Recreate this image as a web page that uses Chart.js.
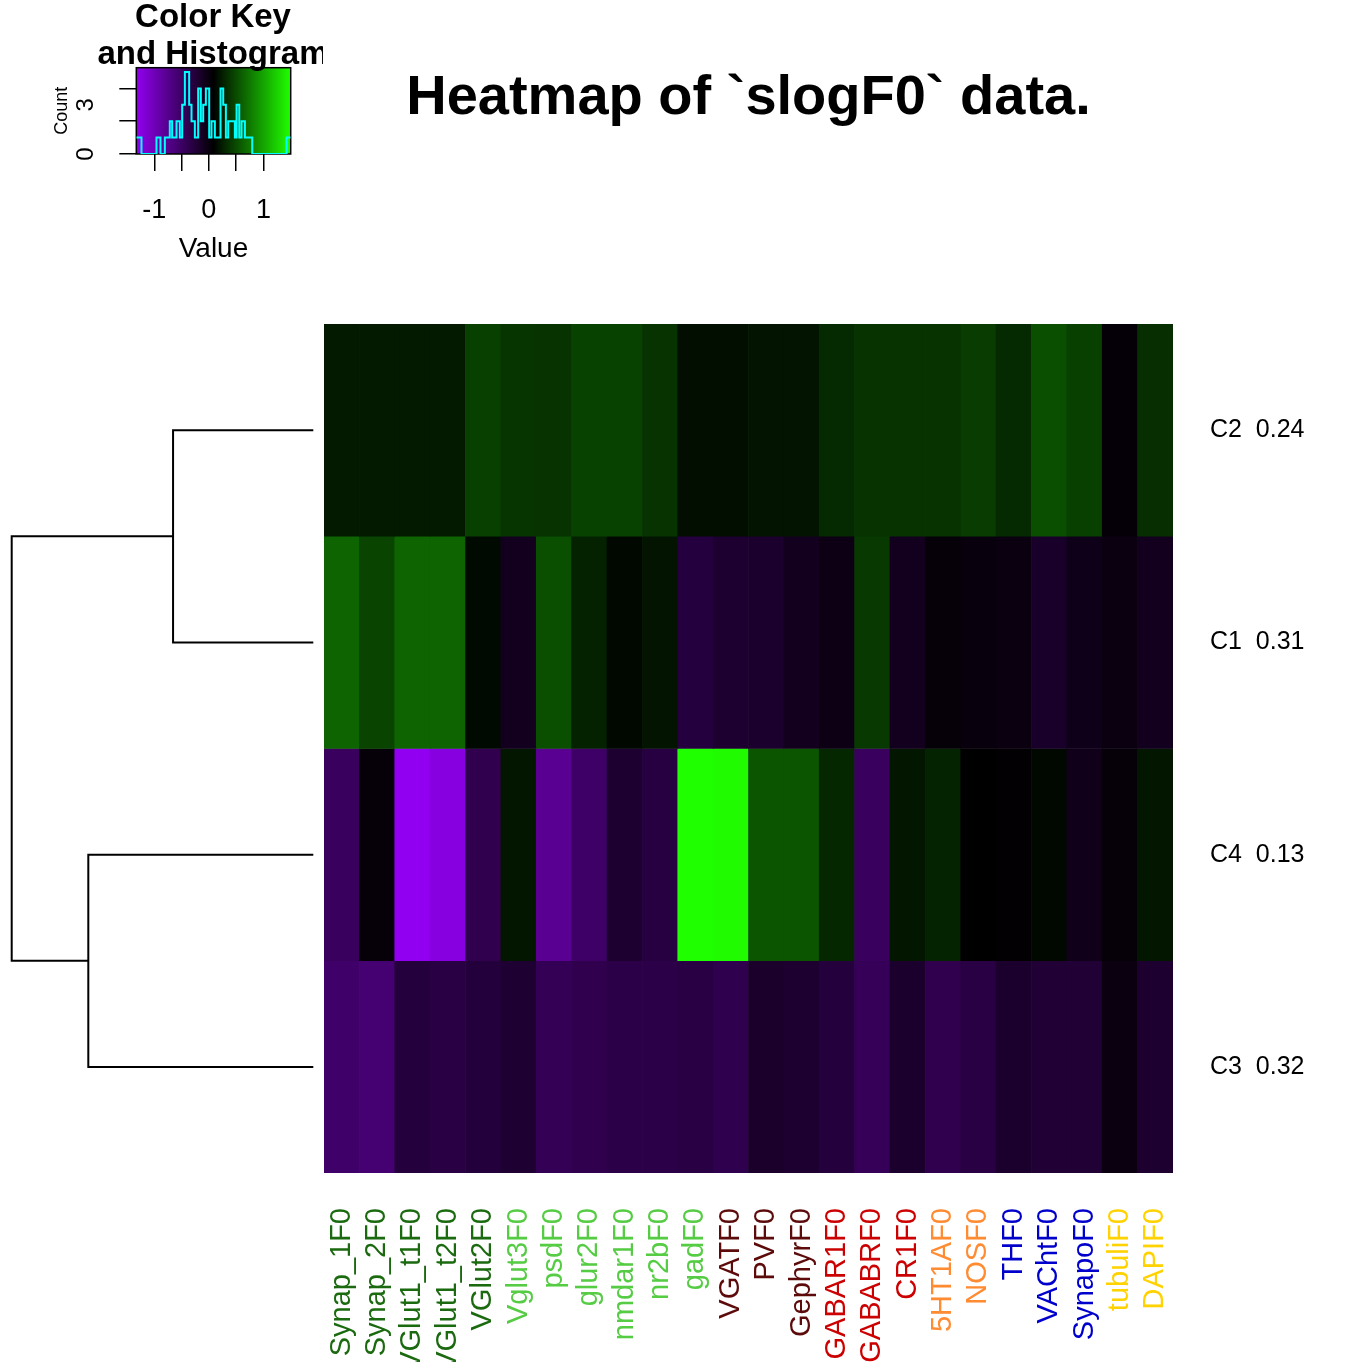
<!DOCTYPE html>
<html><head><meta charset="utf-8">
<script src="https://cdn.jsdelivr.net/npm/chart.js@4.4.1/dist/chart.umd.min.js"></script>
<style>
html,body{margin:0;padding:0;background:#fff;overflow:hidden;}
#wrap{position:relative;width:1362px;height:1362px;background:#fff;}
canvas{position:absolute;left:0;top:0;}
</style></head><body>
<div id="wrap">
<canvas id="main" width="1362" height="1362"></canvas>
<canvas id="dendro" width="330" height="1362"></canvas>
<canvas id="key" width="323" height="300"></canvas>
</div>
<script>
// ---------------- data ----------------
const columns = ['Synap_1F0','Synap_2F0','VGlut1_t1F0','VGlut1_t2F0','VGlut2F0','Vglut3F0','psdF0','glur2F0','nmdar1F0','nr2bF0','gadF0','VGATF0','PVF0','GephyrF0','GABAR1F0','GABABRF0','CR1F0','5HT1AF0','NOSF0','THF0','VAChtF0','SynapoF0','tubuliF0','DAPIF0'];
const columnColors = ['#1B6A10','#1B6A10','#1B6A10','#1B6A10','#1B6A10','#55CC44','#55CC44','#55CC44','#55CC44','#55CC44','#55CC44','#5C0A0A','#5C0A0A','#5C0A0A','#CC0000','#CC0000','#CC0000','#FF8C33','#FF8C33','#0000CC','#0000CC','#0000CC','#FFD200','#FFD200'];
const rowNames = ['C2','C1','C4','C3'];
const rowShares = ['0.24','0.31','0.13','0.32'];
const rowC2 = [0.23,0.23,0.23,0.23,0.44,0.38,0.37,0.45,0.45,0.37,0.17,0.17,0.20,0.20,0.31,0.37,0.37,0.37,0.42,0.31,0.52,0.44,0.04,0.34];
const rowC1 = [0.64,0.47,0.64,0.64,0.14,-0.10,0.52,0.27,0.13,0.20,-0.28,-0.20,-0.18,-0.10,-0.04,0.40,-0.10,0.03,0.00,-0.01,-0.16,-0.06,-0.01,-0.10];
const rowC4 = [-0.47,0.03,-1.33,-1.23,-0.38,0.21,-0.78,-0.52,-0.20,-0.30,1.50,1.48,0.55,0.55,0.30,-0.47,0.21,0.28,0.085,0.06,0.13,-0.07,0.03,0.21];
const rowC3 = [-0.54,-0.59,-0.27,-0.31,-0.26,-0.21,-0.42,-0.38,-0.34,-0.34,-0.31,-0.37,-0.17,-0.20,-0.27,-0.44,-0.18,-0.38,-0.31,-0.18,-0.23,-0.23,-0.01,-0.20];
// dendrogram merge heights (relative): (C2,C1), (C4,C3), root
const mergeHeights = [0.465, 0.746, 1.0];
// colour key histogram: step edges (value units) and counts
const histEdges = [-1.33,-1.235,-0.960,-0.887,-0.807,-0.716,-0.673,-0.593,-0.532,-0.489,-0.440,-0.361,-0.318,-0.257,-0.196,-0.147,-0.104,-0.055,0.006,0.049,0.110,0.214,0.263,0.312,0.355,0.477,0.508,0.557,0.599,0.661,0.795,1.425,1.50];
const histCounts = [1,0,1,0,1,2,1,2,1,3,5,3,2,1,4,2,3,4,1,2,1,4,3,1,2,1,3,1,2,1,0,1];
const keyTicks = [-1,-0.5,0,0.5,1];
const keyTickLabels = ['-1','','0','','1'];
const countTicks = [0,1,2,3,4,5];
const countLabels = [0,3];
const keyTitle = ['Color Key','and Histogram'];

// ---------------- derived ----------------
const rows = [rowC2,rowC1,rowC4,rowC3];
const allVals = rows.flat();
const vMin = Math.min(...allVals), vMax = Math.max(...allVals);
const vMid = (vMin+vMax)/2, vHalf = (vMax-vMin)/2;
const PURPLE = [145,0,240], GREEN = [32,255,0];
function colorOf(v){
  const t = (v - vMid)/vHalf;
  const c = t >= 0 ? GREEN : PURPLE;
  const s = Math.min(1, Math.abs(t));
  return `rgb(${Math.round(c[0]*s)},${Math.round(c[1]*s)},${Math.round(c[2]*s)})`;
}
const maxCount = Math.max(...histCounts);
const histPoints = histEdges.map((b,i)=>({x:b, y: i<histCounts.length ? histCounts[i] : histCounts[histCounts.length-1]}));

Chart.defaults.font.family = "'Liberation Sans', Arial, Helvetica, sans-serif";
Chart.defaults.color = '#000';

// ---------------- main heatmap ----------------
new Chart(document.getElementById('main'), {
  type: 'bar',
  data: {
    labels: columns,
    datasets: rows.map((vals, r) => ({
      label: rowNames[r],
      data: vals.map(() => [r, r+1]),
      backgroundColor: vals.map(colorOf),
      borderWidth: 0,
      categoryPercentage: 1,
      barPercentage: 1,
      grouped: false
    }))
  },
  options: {
    responsive: false, animation: false, devicePixelRatio: 1,
    layout: { padding: { left: 324, top: 0, right: 0, bottom: 0 } },
    plugins: {
      legend: { display: false }, tooltip: { enabled: false },
      title: { display: true, text: 'Heatmap of `slogF0` data.', fullSize: false, color: '#000',
               font: { size: 56, weight: 'bold' }, padding: { top: 65, bottom: 191.8 } }
    },
    scales: {
      x: {
        type: 'category', offset: true,
        grid: { display: false, drawTicks: false }, border: { display: false },
        afterFit: (s) => { s.height = 189; },
        ticks: { autoSkip: false, minRotation: 90, maxRotation: 90, padding: 35,
                 font: { size: 29 }, color: (c) => columnColors[c.index] }
      },
      y: {
        type: 'linear', position: 'right', min: 0, max: 4, reverse: true,
        grid: { display: false, drawTicks: false }, border: { display: false },
        afterBuildTicks: (s) => { s.ticks = rowNames.map((_, i) => ({ value: i + 0.5 })); },
        afterFit: (s) => { s.width = 189; },
        ticks: { padding: 37, font: { size: 25 }, color: '#000',
                 callback: (v, i) => rowNames[i] + '  ' + rowShares[i] }
      }
    }
  }
});

// ---------------- dendrogram ----------------
const [h12, h43, hRoot] = mergeHeights;
const dendroSets = [
  [{x:0,y:0.5},{x:h12,y:0.5},{x:h12,y:1.5},{x:0,y:1.5}],
  [{x:0,y:2.5},{x:h43,y:2.5},{x:h43,y:3.5},{x:0,y:3.5}],
  [{x:h12,y:1.0},{x:hRoot,y:1.0},{x:hRoot,y:3.0},{x:h43,y:3.0}]
];
new Chart(document.getElementById('dendro'), {
  type: 'scatter',
  data: { datasets: dendroSets.map(d => ({ data: d, showLine: true, borderColor: '#000', borderWidth: 2,
          pointRadius: 0, tension: 0, clip: false, fill: false })) },
  options: {
    responsive: false, animation: false, devicePixelRatio: 1,
    layout: { padding: { left: 11.7, right: 16.7, top: 324, bottom: 189 } },
    plugins: { legend: { display: false }, tooltip: { enabled: false } },
    scales: {
      x: { type: 'linear', min: 0, max: hRoot, reverse: true, display: false },
      y: { type: 'linear', min: 0, max: 4, reverse: true, display: false }
    }
  }
});

// ---------------- colour key ----------------
const keyPlugin = {
  id: 'keyDecor',
  beforeDatasetsDraw(chart) {
    const { ctx, chartArea: a } = chart;
    const g = ctx.createLinearGradient(a.left, 0, a.right, 0);
    g.addColorStop(0, `rgb(${PURPLE.join(',')})`);
    g.addColorStop(0.5, '#000');
    g.addColorStop(1, `rgb(${GREEN.join(',')})`);
    ctx.save();
    ctx.fillStyle = g;
    ctx.fillRect(a.left, a.top, a.right - a.left, a.bottom - a.top);
    ctx.strokeStyle = '#000'; ctx.lineWidth = 1.5;
    ctx.strokeRect(a.left, a.top, a.right - a.left, a.bottom - a.top);
    ctx.restore();
  },
  afterDraw(chart) {
    const { ctx, chartArea: a } = chart;
    const ys = chart.scales.y;
    ctx.save();
    ctx.fillStyle = '#000';
    ctx.font = "24px 'Liberation Sans', Arial, sans-serif";
    ctx.textAlign = 'center'; ctx.textBaseline = 'alphabetic';
    countLabels.forEach(c => {
      ctx.save();
      ctx.translate(93.3, ys.getPixelForValue(c));
      ctx.rotate(-Math.PI/2);
      ctx.fillText(String(c), 0, 0);
      ctx.restore();
    });
    ctx.font = "bold 33px 'Liberation Sans', Arial, sans-serif";
    const cx = (a.left + a.right) / 2 - 0.5;
    ctx.fillText(keyTitle[0], cx, 26.7);
    ctx.fillText(keyTitle[1], cx, 64);
    ctx.restore();
  }
};
new Chart(document.getElementById('key'), {
  type: 'line',
  data: { datasets: [{ data: histPoints, stepped: true, borderColor: '#00FFFF', borderWidth: 2,
          pointRadius: 0, fill: false }] },
  options: {
    responsive: false, animation: false, devicePixelRatio: 1,
    layout: { padding: { left: 0, top: 67.7, right: 32.3, bottom: 0 } },
    plugins: { legend: { display: false }, tooltip: { enabled: false } },
    scales: {
      x: {
        type: 'linear', min: vMin, max: vMax,
        afterBuildTicks: (s) => { s.ticks = keyTicks.map(v => ({ value: v })); },
        afterFit: (s) => { s.height = 146; },
        grid: { display: true, drawOnChartArea: false, drawTicks: true, tickLength: 17, color: '#000', lineWidth: 1.5 },
        border: { display: false },
        ticks: { padding: 23, font: { size: 27 }, color: '#000', maxRotation: 0,
                 callback: (v, i) => keyTickLabels[i] },
        title: { display: true, text: 'Value', font: { size: 28 }, color: '#000', padding: { top: 0, bottom: 34 } }
      },
      y: {
        type: 'linear', min: 0, max: maxCount / 0.95,
        afterBuildTicks: (s) => { s.ticks = countTicks.map(v => ({ value: v })); },
        afterFit: (s) => { s.width = 136.3; },
        grid: { display: true, drawOnChartArea: false, drawTicks: true, tickLength: 17, color: '#000', lineWidth: 1.5 },
        border: { display: false },
        ticks: { callback: () => '', padding: 0 },
        title: { display: true, text: 'Count', font: { size: 18 }, color: '#000', padding: { top: 51.3, bottom: 0 } }
      }
    }
  },
  plugins: [keyPlugin]
});
</script>
</body></html>
